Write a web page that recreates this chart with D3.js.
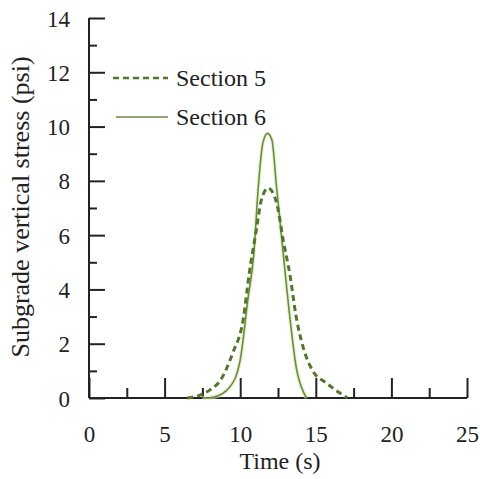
<!DOCTYPE html>
<html><head><meta charset="utf-8">
<script src="https://cdn.jsdelivr.net/npm/d3@7"></script>
<style>body{margin:0;background:#fff}svg{display:block}</style>
</head><body>
<script>
const xTicks = [0,5,10,15,20,25];
const xMinorTicks = [2.5,7.5,12.5,17.5,22.5];
const yTicks = [0,2,4,6,8,10,12,14];
const yMinorTicks = [1,3,5,7,9,11,13];
const seriesNames = ["Section 5","Section 6"];
const s5Time = [0,6.5,7.3,8.0,8.7,9.5,10.2,10.6,11.1,11.4,11.85,12.4,12.85,13.3,13.7,14.2,14.8,15.7,16.6,17.1,25];
const s5Val  = [0,0,0.1,0.3,0.66,1.65,2.9,4.6,6.3,7.3,7.73,7.2,5.8,4.5,3.0,1.8,1.0,0.55,0.18,0,0];
const s6Time = [0,7.5,8.2,9.3,10.0,10.5,10.9,11.2,11.5,11.8,12.1,12.4,12.85,13.3,13.7,14.2,14.4,25];
const s6Val  = [0,0,0.03,0.4,1.4,3.6,5.3,7.8,9.4,9.75,9.5,7.8,5.3,2.9,1.15,0.2,0,0];

const W=480,H=479;
const FONT="Times New Roman, Liberation Serif, DejaVu Serif, serif";
const svg=d3.select("body").append("svg").attr("width",W).attr("height",H)
  .attr("font-family",FONT);
const x=d3.scaleLinear().domain([0,25]).range([89,467]);
const y=d3.scaleLinear().domain([0,14]).range([398,18]);
const axisColor="#222";

const ya=svg.append("g").attr("transform","translate(89,0)")
  .call(d3.axisLeft(y).tickValues(yTicks).tickSize(-16).tickPadding(19).tickFormat(d3.format("d")));
ya.select(".domain").remove();
const yam=svg.append("g").attr("transform","translate(89,0)")
  .call(d3.axisLeft(y).tickValues(yMinorTicks).tickSize(-8).tickFormat(""));
yam.select(".domain").remove();
const xa=svg.append("g").attr("transform","translate(0,398)")
  .call(d3.axisBottom(x).tickValues(xTicks).tickSize(-20).tickPadding(28).tickFormat(d3.format("d")));
xa.select(".domain").remove();
const xam=svg.append("g").attr("transform","translate(0,398)")
  .call(d3.axisBottom(x).tickValues(xMinorTicks).tickSize(-10).tickFormat(""));
xam.select(".domain").remove();
svg.selectAll("g").attr("font-family",FONT).attr("font-size",null);
svg.selectAll(".tick line").attr("stroke",axisColor).attr("stroke-width",2);
svg.selectAll(".tick text").attr("font-family",FONT).attr("font-size",23).attr("fill","#222");
ya.selectAll(".tick text").attr("dy","0.35em");
svg.append("line").attr("x1",x(0)).attr("x2",x(0)).attr("y1",y(14)).attr("y2",y(0)).attr("stroke",axisColor).attr("stroke-width",2);
svg.append("line").attr("x1",x(0)).attr("x2",x(25)).attr("y1",y(0)).attr("y2",y(0)).attr("stroke",axisColor).attr("stroke-width",2);

const line=d3.line().x(d=>x(d[0])).y(d=>y(d[1])).curve(d3.curveMonotoneX);
const s6=s6Time.map((t,i)=>[t,s6Val[i]]);
const s5=s5Time.map((t,i)=>[t,s5Val[i]]);
svg.append("path").datum(s6.filter(d=>d[0]>=6&&d[0]<=16)).attr("d",line).attr("fill","none")
  .attr("stroke","#d8ecb0").attr("stroke-width",4).attr("opacity",0.6);
svg.append("path").datum(s6.filter(d=>d[0]>=6&&d[0]<=16)).attr("d",line).attr("fill","none")
  .attr("stroke","#6d8a45").attr("stroke-width",1.6);
svg.append("path").datum(s5.filter(d=>d[0]>=5.5&&d[0]<=18)).attr("d",line).attr("fill","none")
  .attr("stroke","#52762c").attr("stroke-width",3).attr("stroke-dasharray","6,4");

const lg=svg.append("g");
lg.append("line").attr("x1",113).attr("x2",168).attr("y1",78).attr("y2",78)
  .attr("stroke","#52762c").attr("stroke-width",2.5).attr("stroke-dasharray","6,4");
lg.append("line").attr("x1",116).attr("x2",168).attr("y1",117).attr("y2",117)
  .attr("stroke","#6d8a45").attr("stroke-width",1.6);
lg.append("text").attr("x",176).attr("y",86).text(seriesNames[0])
  .attr("font-family",FONT).attr("font-size",24).attr("fill","#222");
lg.append("text").attr("x",176).attr("y",125).text(seriesNames[1])
  .attr("font-family",FONT).attr("font-size",24).attr("fill","#222");

svg.append("text").attr("x",280).attr("y",469).attr("text-anchor","middle")
  .attr("font-family",FONT).attr("font-size",24).attr("fill","#222").text("Time (s)");
svg.append("text").attr("transform","translate(29,207) rotate(-90)").attr("text-anchor","middle")
  .attr("font-family",FONT).attr("font-size",26).attr("fill","#222").text("Subgrade vertical stress (psi)");
</script>
</body></html>
